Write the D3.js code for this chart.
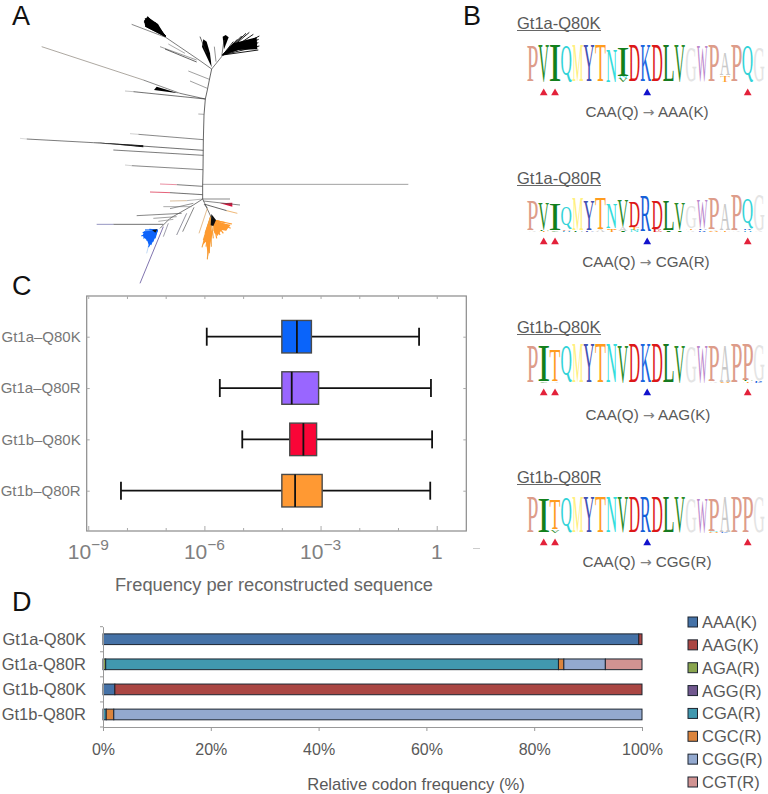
<!DOCTYPE html>
<html>
<head>
<meta charset="utf-8">
<script src="https://cdn.jsdelivr.net/npm/d3@7"></script>
<style>
  html, body { margin: 0; padding: 0; background: #fff; }
  text { font-family: "Liberation Sans", Arial, sans-serif; }
  .domain { display: none; }
</style>
</head>
<body>
<div id="chart"></div>
<script>
// Panel C: box plots (frequency per reconstructed sequence)
const groups = ['Gt1a\u2013Q80K', 'Gt1a\u2013Q80R', 'Gt1b\u2013Q80K', 'Gt1b\u2013Q80R'];
const whiskerLow = [1.15e-6, 2.5e-6, 9.5e-6, 7e-9];
const boxLow = [1e-4, 1e-4, 1.6e-4, 1e-4];
const boxMedian = [2.45e-4, 1.8e-4, 3.6e-4, 2.2e-4];
const boxHigh = [5.8e-4, 8.9e-4, 7.9e-4, 1.1e-3];
const whiskerHigh = [0.35, 0.71, 0.76, 0.68];
const boxColors = ['#0a64fa', '#9966ff', '#fa0537', '#ff9933'];
const decadeTicks = [1e-9, 1e-8, 1e-7, 1e-6, 1e-5, 1e-4, 1e-3, 1e-2, 1e-1, 1];
const labelledTicks = [1e-9, 1e-6, 1e-3, 1];

// Panel D: codon shares per group
const codonGroups = ['Gt1a-Q80K', 'Gt1a-Q80R', 'Gt1b-Q80K', 'Gt1b-Q80R'];
const codons = ['AAA(K)', 'AAG(K)', 'AGA(R)', 'AGG(R)', 'CGA(R)', 'CGC(R)', 'CGG(R)', 'CGT(R)'];
const codonColors = ['#4572a7', '#aa4643', '#89a54e', '#71588f', '#4198af', '#db843d', '#93a9cf', '#d19392'];
const aaaK = [99.4, 0, 2.2, 0];
const aagK = [0.6, 0, 97.8, 0];
const agaR = [0, 0.5, 0, 0];
const aggR = [0, 0, 0, 0];
const cgaR = [0, 84, 0, 0.6];
const cgcR = [0, 1, 0, 1.4];
const cggR = [0, 7.7, 0, 98];
const cgtR = [0, 6.8, 0, 0];
const codonSeries = [aaaK, aagK, agaR, aggR, cgaR, cgcR, cggR, cgtR];
const percentTicks = [0, 20, 40, 60, 80, 100];

// Panel B: sequence logos
const logoTitles = ['Gt1a-Q80K', 'Gt1a-Q80R', 'Gt1b-Q80K', 'Gt1b-Q80R'];
const logoSubs = [['CAA(Q)', 'AAA(K)'], ['CAA(Q)', 'CGA(R)'], ['CAA(Q)', 'AAG(K)'], ['CAA(Q)', 'CGG(R)']];
const logoSeqs = ['PVIQMYTNIDKDLVGWPAPQG', 'PVIQMYTNVDRDLVGWPAPQG', 'PITQMYTNVDKDLVGWPAPPG', 'PITQMYTNVDRDLVGWPAPPG'];
const logoHeights = [
  [.96, .98, .98, .98, .98, .98, .98, .86, .76, .98, .98, .98, .98, .98, .94, .97, .98, .6, .98, .98, .95],
  [.8, .72, .72, .62, .86, .8, .82, .62, .74, .68, .96, .76, .8, .72, .62, .76, .82, .72, .96, .78, .97],
  [.97, .92, .8, .98, .98, .98, .98, .98, .98, .98, .98, .98, .98, .98, .96, .96, .93, .95, .98, .94, .96],
  [.97, .94, .8, .98, .98, .98, .98, .98, .98, .98, .98, .98, .98, .98, .96, .96, .9, .95, .98, .98, .98]
];
// small residues under the main letter: [column, letter, height]
const logoMinor = [
  [[8, 'V', .1], [8, 'N', .06], [17, 'T', .13], [17, 'G', .05]],
  [[0, 'A', .04], [1, 'T', .03], [1, 'L', .04], [2, 'V', .05], [3, 'H', .03], [3, 'P', .04], [4, 'L', .05], [5, 'F', .05], [6, 'A', .06], [7, 'T', .06], [7, 'S', .05], [8, 'I', .03], [8, 'A', .12], [9, 'N', .06], [9, 'T', .07], [11, 'E', .06], [12, 'I', .04], [13, 'I', .05], [14, 'A', .05], [14, 'T', .03], [15, 'R', .05], [15, 'F', .04], [16, 'S', .03], [16, 'A', .03], [17, 'T', .05], [18, 'A', .03], [19, 'H', .05], [19, 'R', .04], [20, 'A', .02]],
  [[1, 'V', .05], [2, 'A', .03], [16, 'A', .03], [17, 'S', .02], [19, 'T', .04], [19, 'L', .03], [20, 'K', .03], [20, 'R', .03]],
  [[2, 'V', .06], [2, 'A', .03], [16, 'S', .02], [16, 'N', .02], [17, 'K', .02], [17, 'S', .02]]
];
const redMarks = [1, 2, 19];
const blueMarks = [10];
const residueColors = {
  P: '#dd9c8a', V: '#2a8c2a', I: '#12801c', Q: '#33d3d8', M: '#fff080', Y: '#4452b4', T: '#ff9c1e',
  N: '#33dcdc', D: '#dc1818', K: '#1a66e0', R: '#1560d8', L: '#177a1f', G: '#e4e4e4', W: '#bb88cc',
  A: '#c9c9c9', S: '#ff9c1e', E: '#dc1818', H: '#33a0d8', F: '#4452b4'
};

// Panel A: tree, read in its own 1260 x 870 drawing units
const treeBackbone = [[635, 207], [628, 240], [622, 270], [616, 297], [612, 345], [610, 420], [609, 510], [608, 555], [608, 597]];
const treeBranches = [
  [608, 553, 1225, 553, '#777'], [635, 207, 600, 182, '#444'], [600, 182, 497, 112, '#444'], [497, 112, 395, 73, '#555'],
  [590, 180, 480, 140, '#777'], [590, 186, 495, 147, '#222'], [555, 160, 505, 132, '#888'],
  [635, 207, 665, 170, '#444'], [648, 185, 643, 140, '#666'], [665, 170, 672, 120, '#444'], [628, 238, 565, 213, '#777'], [622, 265, 570, 243, '#777'],
  [616, 297, 540, 280, '#444'], [540, 280, 430, 240, '#555'], [430, 240, 125, 140, '#8a8378'],
  [616, 297, 400, 275, '#333'], [400, 275, 375, 273, '#aaa'], [612, 343, 595, 342, '#888'], [610, 419, 415, 403, '#555'], [415, 403, 390, 401, '#bbb'],
  [610, 451, 280, 428, '#333'], [280, 428, 80, 417, '#444'], [80, 417, 60, 415, '#ccc'], [610, 466, 340, 450, '#444'],
  [609, 509, 395, 497, '#555'], [395, 497, 375, 495, '#bbb'], [608, 559, 530, 554, '#444'], [530, 554, 480, 552, '#e0607a'],
  [608, 584, 510, 578, '#333'], [510, 578, 450, 576, '#d8203f'], [608, 597, 560, 602, '#999'], [560, 602, 510, 603, '#c9a070'],
  [608, 597, 580, 615, '#444'], [580, 615, 510, 655, '#444'], [510, 655, 480, 685, '#444'], [490, 680, 420, 850, '#4a3a8c'],
  [490, 673, 340, 673, '#333'], [340, 673, 290, 673, '#6a6aa8'], [545, 640, 410, 647, '#555'], [530, 650, 460, 655, '#777'], [520, 658, 475, 664, '#888'],
  [575, 620, 490, 620, '#888'], [580, 610, 510, 626, '#666'], [582, 622, 548, 695, '#555'], [560, 640, 530, 705, '#667'], [505, 670, 490, 710, '#778'],
  [608, 597, 690, 597, '#555'], [610, 603, 720, 615, '#555'], [615, 613, 680, 632, '#222'], [680, 632, 712, 640, '#e89a3c'],
  [608, 597, 635, 655, '#444'], [622, 625, 597, 700, '#d8a060'], [612, 612, 622, 624, '#444'],
  [620, 160, 600, 110, '#222'], [445, 740, 440, 760, '#a8c8f0']
];
const treeClades = [
  { fill: '#000', points: [[497, 110], [436, 80], [432, 62], [442, 50], [474, 72]] },
  { fill: '#000', points: [[635, 202], [606, 140], [610, 118], [620, 125], [630, 160]] },
  { fill: '#000', points: [[672, 148], [668, 110], [677, 105], [686, 112]] },
  { fill: '#000', points: [[668, 165], [700, 130], [770, 112], [772, 148], [715, 150]] },
  { fill: '#000', points: [[535, 280], [490, 266], [470, 260], [462, 270]] },
  { fill: '#000', points: [[430, 442], [280, 427], [430, 436]] },
  { fill: '#d8103a', points: [[660, 610], [697, 608], [697, 620]] },
  { fill: '#0a64fa', points: [[470, 692], [432, 694], [428, 708], [442, 722], [447, 738], [458, 722], [468, 706]] },
  { fill: '#ff9a2e', points: [[640, 665], [692, 674], [678, 692], [665, 690], [652, 708], [640, 692]] },
  { fill: '#ff9a2e', points: [[626, 668], [638, 700], [630, 735], [624, 770], [618, 725], [608, 735], [618, 690]] },
  { fill: '#111', points: [[634, 642], [648, 660], [640, 678], [632, 676]] },
  { fill: '#111', points: [[472, 688], [456, 690], [466, 698]] }
];
// feathered tips of the dense clades: root and tip ends
const treeFans = [
  { color: '#000', width: 1.1, root: [497, 110], tips: [[435, 55], [442, 50], [450, 58], [432, 65], [436, 78], [465, 68], [440, 72], [445, 62], [455, 70], [475, 85], [450, 80]] },
  { color: '#000', width: 0.9, root: [668, 165], tips: [[778, 108], [776, 118], [775, 128], [778, 138], [775, 150], [748, 97], [738, 100], [725, 108], [712, 118], [700, 125], [760, 103]] },
  { color: '#0a64fa', width: 1.2, root: [472, 690], tips: [[428, 698], [424, 708], [430, 715], [440, 722], [445, 742], [452, 735], [458, 725], [465, 715], [435, 690], [448, 688]] },
  { color: '#ff9a2e', width: 1.2, root: [640, 660], tips: [[696, 672], [692, 685], [680, 690], [688, 678], [670, 700], [660, 705], [650, 715], [645, 700], [675, 668], [660, 665]] },
  { color: '#f0a040', width: 1.1, root: [632, 650], tips: [[622, 778], [628, 760], [634, 740], [618, 740], [610, 720], [606, 742], [615, 700], [628, 700], [640, 715]] }
];

const svg = d3.select('#chart').append('svg').attr('width', 768).attr('height', 794);

svg.append('defs').append('filter').attr('id', 'soft')
  .append('feGaussianBlur').attr('stdDeviation', 0.3);

// Panel letters
const panelLetters = [['A', 12, 24.5], ['B', 463, 24.5], ['C', 12, 295], ['D', 12, 611]];
svg.selectAll('.panel').data(panelLetters).enter().append('text')
  .attr('class', 'panel')
  .attr('x', d => d[1]).attr('y', d => d[2])
  .style('font-size', '27px').style('fill', '#111')
  .text(d => d[0]);

// ---- Panel A ----
const treeX = d3.scaleLinear().domain([0, 1260]).range([0, 420]);
const treeY = d3.scaleLinear().domain([0, 870]).range([0, 290]);
const treeLine = d3.line().x(d => treeX(d[0])).y(d => treeY(d[1]));
const tree = svg.append('g').attr('filter', 'url(#soft)');

treeFans.forEach(fan => {
  tree.selectAll(null).data(fan.tips).enter().append('path')
    .attr('d', d => treeLine([fan.root, d]))
    .attr('stroke', fan.color).attr('stroke-width', fan.width).attr('fill', 'none');
});

tree.selectAll('.clade').data(treeClades).enter().append('path')
  .attr('class', 'clade')
  .attr('d', d => treeLine(d.points) + 'Z')
  .attr('fill', d => d.fill);

tree.selectAll('.branch').data(treeBranches).enter().append('path')
  .attr('class', 'branch')
  .attr('d', d => treeLine([[d[0], d[1]], [d[2], d[3]]]))
  .attr('stroke', d => d[4]).attr('stroke-width', 0.7).attr('fill', 'none');

tree.append('path').attr('d', treeLine(treeBackbone))
  .attr('stroke', '#555').attr('stroke-width', 0.9).attr('fill', 'none');

// ---- Panel B ----
const logoTop = [45, 195, 345, 497];
const logoBottom = [82, 232, 383, 533];
const titleY = [23, 178, 327, 477];
const markY = [93, 242, 393, 543];
const subY = [112, 262, 415, 562];
const subX = [647, 646, 648, 647];

const columnX = d3.scaleBand().domain(d3.range(21)).range([526.7, 764.7]);

const measure = document.createElement('canvas').getContext('2d');
measure.font = '100px "Liberation Serif"';

// stretch one glyph so its ink fills the given box
function drawResidue(g, letter, x, width, bottom, height) {
  const m = measure.measureText(letter);
  const inkW = m.actualBoundingBoxLeft + m.actualBoundingBoxRight;
  const inkH = m.actualBoundingBoxAscent + m.actualBoundingBoxDescent;
  g.append('text')
    .attr('transform', `translate(${x},${bottom}) scale(${width / inkW},${height / inkH}) translate(${m.actualBoundingBoxLeft},${-m.actualBoundingBoxDescent})`)
    .style('font-family', '"Liberation Serif", serif')
    .style('font-size', '100px')
    .attr('fill', residueColors[letter])
    .text(letter);
}

logoSeqs.forEach((seq, i) => {
  const g = svg.append('g');
  const heightY = d3.scaleLinear().domain([0, 1]).range([0, logoBottom[i] - logoTop[i]]);
  g.append('text')
    .attr('x', 517).attr('y', titleY[i] + 6)
    .style('font-size', '16.5px').style('fill', '#595959')
    .text(logoTitles[i]);
  g.append('line')
    .attr('x1', 517).attr('x2', 601)
    .attr('y1', titleY[i] + 7.5).attr('y2', titleY[i] + 7.5)
    .attr('stroke', '#666').attr('stroke-width', 1);

  seq.split('').forEach((letter, col) => {
    let bottom = logoBottom[i];
    logoMinor[i].filter(d => d[0] === col).forEach(d => {
      const h = heightY(d[2]);
      drawResidue(g, d[1], columnX(col) + 1, columnX.bandwidth() - 2, bottom, h);
      bottom -= h;
    });
    drawResidue(g, letter, columnX(col) + 0.4, columnX.bandwidth() - 0.8, bottom, heightY(logoHeights[i][col]));
  });

  const tri = d3.symbol().type(d3.symbolTriangle).size(26);
  g.selectAll('.red').data(redMarks).enter().append('path')
    .attr('d', tri)
    .attr('transform', d => `translate(${columnX(d) + columnX.bandwidth() / 2},${markY[i]})`)
    .attr('fill', '#e3213a');
  g.selectAll('.blue').data(blueMarks).enter().append('path')
    .attr('d', tri)
    .attr('transform', d => `translate(${columnX(d) + columnX.bandwidth() / 2 + 1.5},${markY[i]})`)
    .attr('fill', '#1212cc');

  const sub = g.append('text')
    .attr('x', subX[i]).attr('y', subY[i] + 5)
    .attr('text-anchor', 'middle')
    .style('font-size', '15.2px').style('fill', '#595959');
  sub.append('tspan').text(logoSubs[i][0] + ' ');
  sub.append('tspan').style('font-family', '"DejaVu Sans"').style('font-size', '14px').style('fill', '#808080').text('\u2192');
  sub.append('tspan').text(' ' + logoSubs[i][1]);
});

// ---- Panel C ----
const boxPlot = { left: 86.7, right: 466.3, top: 296, bottom: 531 };
const logX = d3.scaleLog().domain([10 ** -9.04, 10 ** 0.764]).range([boxPlot.left, boxPlot.right]);
const groupY = d3.scalePoint().domain(groups).range([336.7, 490.7]);
const boxH = 32.5, capH = 18;

const c = svg.append('g');

c.append('rect')
  .attr('x', boxPlot.left).attr('y', boxPlot.top)
  .attr('width', boxPlot.right - boxPlot.left).attr('height', boxPlot.bottom - boxPlot.top)
  .attr('fill', '#fff').attr('stroke', '#8a8a8a').attr('stroke-width', 1.2);

const bottomAxis = c.append('g')
  .attr('transform', `translate(0,${boxPlot.bottom})`)
  .call(d3.axisBottom(logX).tickValues(decadeTicks).tickSize(-3).tickPadding(7).tickFormat(() => ''));
bottomAxis.selectAll('.tick line').attr('stroke', '#aaa');
bottomAxis.selectAll('.tick line').filter(d => labelledTicks.includes(d)).attr('y2', -5);

const xLabels = c.append('g');
xLabels.selectAll('text').data(labelledTicks).enter().append('text')
  .attr('x', d => logX(d)).attr('y', 559)
  .attr('text-anchor', 'middle')
  .style('fill', '#808080')
  .each(function (d) {
    const t = d3.select(this);
    if (d === 1) {
      t.append('tspan').style('font-size', '21px').text('1');
    } else {
      t.append('tspan').style('font-size', '21px').text('10');
      t.append('tspan').style('font-size', '15.5px').attr('dy', -9).text('\u2212' + Math.round(-Math.log10(d)));
    }
  });

const topAxis = c.append('g')
  .attr('transform', `translate(0,${boxPlot.top})`)
  .call(d3.axisTop(logX).tickValues(decadeTicks).tickSize(-3).tickFormat(() => ''));
topAxis.selectAll('.tick line').attr('stroke', '#aaa');

const leftAxis = c.append('g')
  .attr('transform', `translate(${boxPlot.left},0)`)
  .call(d3.axisLeft(groupY).tickSize(-3).tickPadding(6));
leftAxis.selectAll('.tick line').attr('stroke', '#aaa');
leftAxis.selectAll('text').style('font-size', '15px').style('fill', '#777');

const rightAxis = c.append('g')
  .attr('transform', `translate(${boxPlot.right},0)`)
  .call(d3.axisRight(groupY).tickSize(-3).tickFormat(() => ''));
rightAxis.selectAll('.tick line').attr('stroke', '#aaa');

groups.forEach((name, i) => {
  const y = groupY(name);
  c.append('line')
    .attr('x1', logX(whiskerLow[i])).attr('x2', logX(whiskerHigh[i]))
    .attr('y1', y).attr('y2', y)
    .attr('stroke', '#111').attr('stroke-width', 1.8);
  [whiskerLow[i], whiskerHigh[i]].forEach(v => {
    c.append('line')
      .attr('x1', logX(v)).attr('x2', logX(v))
      .attr('y1', y - capH / 2).attr('y2', y + capH / 2)
      .attr('stroke', '#111').attr('stroke-width', 1.8);
  });
  c.append('rect')
    .attr('x', logX(boxLow[i])).attr('y', y - boxH / 2)
    .attr('width', logX(boxHigh[i]) - logX(boxLow[i])).attr('height', boxH)
    .attr('fill', boxColors[i]).attr('stroke', '#4a4a4a').attr('stroke-width', 1.4);
  c.append('line')
    .attr('x1', logX(boxMedian[i])).attr('x2', logX(boxMedian[i]))
    .attr('y1', y - boxH / 2).attr('y2', y + boxH / 2)
    .attr('stroke', '#111').attr('stroke-width', 1.8);
});

c.append('text')
  .attr('x', 274).attr('y', 591)
  .attr('text-anchor', 'middle')
  .style('font-size', '18.3px').style('fill', '#666')
  .text('Frequency per reconstructed sequence');

c.append('line')
  .attr('x1', 473).attr('x2', 480).attr('y1', 548.5).attr('y2', 548.5)
  .attr('stroke', '#ccc').attr('stroke-width', 1);

// ---- Panel D ----
const pctX = d3.scaleLinear().domain([0, 100]).range([103, 642]);
const rowY = d3.scaleBand().domain(codonGroups).range([626.7, 727]);
const barH = 10.7;

const rows = codonGroups.map((name, r) => {
  const row = { name };
  codons.forEach((k, s) => { row[k] = codonSeries[s][r]; });
  return row;
});
const stacked = d3.stack().keys(codons)(rows);

const d = svg.append('g');

d.selectAll('.layer').data(stacked).enter().append('g')
  .attr('fill', s => codonColors[codons.indexOf(s.key)])
  .selectAll('rect').data(s => s.filter(v => v[1] > v[0])).enter().append('rect')
  .attr('x', v => pctX(v[0]))
  .attr('y', v => rowY(v.data.name) + rowY.bandwidth() / 2 - barH / 2)
  .attr('width', v => pctX(v[1]) - pctX(v[0]))
  .attr('height', barH)
  .attr('stroke', '#1d2530').attr('stroke-width', 1);

const pctAxis = d.append('g')
  .attr('transform', `translate(0,${rowY.range()[1]})`)
  .call(d3.axisBottom(pctX).tickValues(percentTicks).tickSize(4).tickPadding(13).tickFormat(v => v + '%'));
pctAxis.select('.domain').style('display', 'inline').attr('stroke', '#999');
pctAxis.selectAll('.tick line').attr('stroke', '#999');
pctAxis.selectAll('text').style('font-size', '16px').style('fill', '#595959');

const rowAxis = d.append('g')
  .attr('transform', `translate(${pctX(0)},0)`)
  .call(d3.axisLeft(rowY).tickSize(0).tickPadding(17));
rowAxis.select('.domain').style('display', 'inline').attr('stroke', '#999');
rowAxis.selectAll('text').style('font-size', '16.5px').style('fill', '#595959');
// ticks sit on the band edges
rowAxis.selectAll('.edge').data(d3.range(codonGroups.length + 1)).enter().append('line')
  .attr('x1', -3).attr('x2', 0)
  .attr('y1', e => rowY.range()[0] + e * rowY.step())
  .attr('y2', e => rowY.range()[0] + e * rowY.step())
  .attr('stroke', '#999');

d.append('text')
  .attr('x', 416).attr('y', 790)
  .attr('text-anchor', 'middle')
  .style('font-size', '16.6px').style('fill', '#595959')
  .text('Relative codon frequency (%)');

const legendY = d3.scalePoint().domain(codons).range([622, 782]);
const legend = d.selectAll('.legend').data(codons).enter().append('g')
  .attr('transform', k => `translate(688,${legendY(k)})`);
legend.append('rect')
  .attr('x', 0).attr('y', -5).attr('width', 9.5).attr('height', 10)
  .attr('fill', (k, i) => codonColors[i])
  .attr('stroke', '#1d2530').attr('stroke-width', 1);
legend.append('text')
  .attr('x', 14).attr('y', 6)
  .style('font-size', '16.5px').style('fill', '#595959')
  .text(k => k);
</script>
</body>
</html>
